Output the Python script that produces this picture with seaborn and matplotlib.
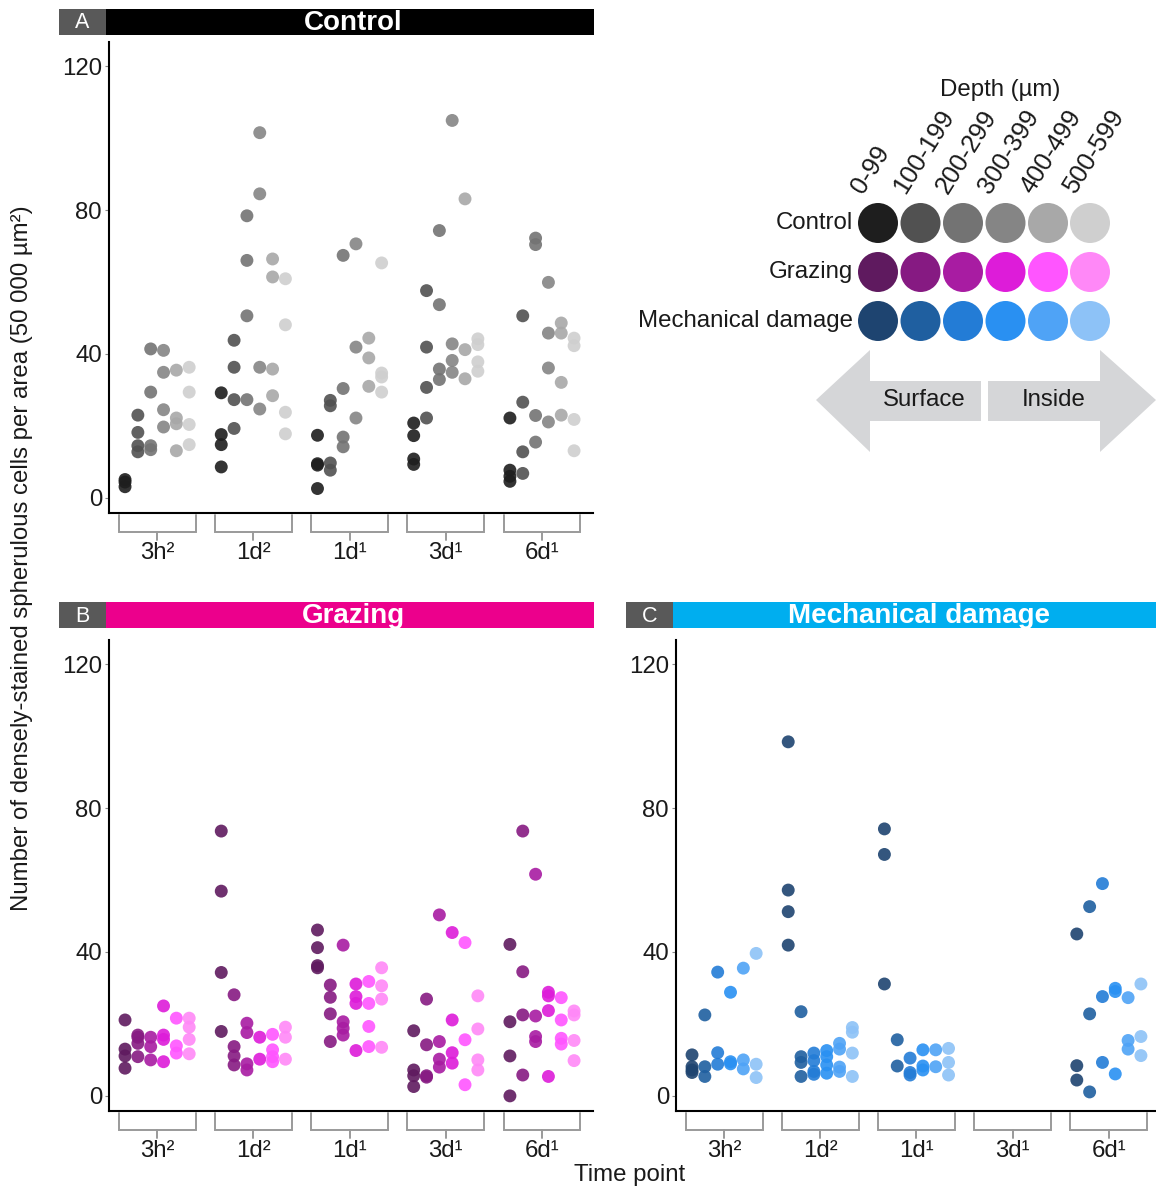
import matplotlib
matplotlib.use("Agg")
import matplotlib.pyplot as plt
import matplotlib.transforms as mtransforms
from matplotlib.patches import Rectangle, Polygon
import pandas as pd
import seaborn as sns

# ---------------- data ----------------
time_points = ["3h²", "1d²", "1d¹", "3d¹", "6d¹"]
depths = ["0-99", "100-199", "200-299", "300-399", "400-499", "500-599"]

control_colors = ["#1E1E1E", "#515151", "#737373", "#858585", "#A8A8A8", "#CFCFCF"]
grazing_colors = ["#5F1A5F", "#861A82", "#A81CA2", "#DD1CD9", "#FF55FF", "#FF88F7"]
mechanical_colors = ["#1E4470", "#1F5FA0", "#237CD6", "#2990F2", "#4FA3F6", "#8DC2F7"]

# each list: values for depth 0-99, 100-199, ..., 500-599
control_3h2 = [[5.1, 4.4, 3.1], [23.0, 18.2, 14.5, 12.8], [41.4, 29.4, 14.5, 13.4],
               [41.0, 34.9, 24.5, 19.7], [35.5, 22.2, 20.6, 13.1], [36.3, 29.4, 20.4, 14.8]]
control_1d2 = [[29.2, 17.6, 14.8, 8.6], [43.8, 36.3, 27.3, 19.3], [78.4, 66.0, 50.6, 27.3],
               [101.5, 84.5, 36.3, 24.7], [66.4, 61.4, 35.8, 28.4], [60.9, 48.1, 23.8, 17.8]]
control_1d1 = [[17.4, 9.5, 9.1, 2.6], [27.1, 25.6, 9.7, 7.7], [67.4, 30.4, 16.9, 14.2],
               [70.6, 41.9, 22.2], [44.4, 38.9, 31.0], [65.3, 34.7, 33.6, 29.4]]
control_3d1 = [[20.8, 17.3, 10.8, 9.3], [57.6, 41.9, 30.7, 22.2], [74.3, 53.7, 35.8, 32.9],
               [104.9, 42.8, 38.2, 34.9], [83.1, 41.2, 33.1], [44.2, 42.6, 37.8, 35.2]]
control_6d1 = [[22.2, 7.7, 6.0, 4.6], [50.6, 26.6, 12.8, 6.8], [72.2, 70.4, 22.9, 15.5],
               [59.9, 45.8, 36.1, 21.1], [48.6, 45.8, 32.1, 23.0], [44.4, 42.3, 21.8, 13.1]]

grazing_3h2 = [[21.1, 13.0, 11.1, 7.7], [16.9, 16.3, 14.6, 10.9], [16.3, 13.7, 10.0],
               [25.0, 16.9, 15.7, 9.5], [21.6, 13.9, 11.9], [21.6, 19.1, 15.7, 11.7]]
grazing_1d2 = [[73.6, 56.9, 34.3, 17.9], [28.1, 13.7, 11.1, 8.6], [20.2, 17.6, 8.9, 7.2],
               [16.3, 10.2], [17.1, 12.8, 10.9, 9.5], [19.1, 16.3, 10.2]]
grazing_1d1 = [[46.1, 41.2, 36.2, 35.6], [30.8, 27.4, 22.8, 15.1], [41.9, 20.6, 18.8, 16.9],
               [31.1, 27.6, 25.7, 12.6], [31.8, 25.7, 19.3, 13.7], [35.6, 30.6, 26.9, 13.5]]
grazing_3d1 = [[18.1, 7.2, 5.6, 2.6], [26.9, 14.2, 5.6, 5.2], [50.3, 15.1, 10.2, 8.0],
               [45.4, 21.1, 12.0, 9.1], [42.6, 15.6, 3.1], [27.8, 18.6, 10.0, 7.2]]
grazing_6d1 = [[42.1, 20.6, 11.1, 0.0], [73.6, 34.5, 22.5, 5.8], [61.6, 22.2, 16.5, 15.1],
               [28.8, 27.8, 23.7, 5.4], [27.3, 21.1, 16.0, 14.4], [23.6, 22.5, 15.4, 9.8]]

mechanical_3h2 = [[11.4, 8.1, 7.2, 6.5], [22.5, 8.1, 5.4], [34.4, 12.0, 8.8],
                  [28.8, 9.5, 8.9], [35.5, 10.0, 7.5], [39.6, 8.8, 5.1]]
mechanical_1d2 = [[98.4, 57.2, 51.2, 41.9], [23.4, 10.9, 9.3, 5.4], [11.9, 9.8, 6.8, 6.0],
                  [12.6, 10.9, 8.6, 6.3], [14.6, 13.0, 8.0, 6.8], [19.0, 17.7, 11.9, 5.4]]
mechanical_1d1 = [[74.2, 67.1, 31.1], [15.6, 8.3], [10.5, 6.5, 5.8],
                  [12.8, 8.3, 7.2], [12.8, 8.1], [13.2, 9.3, 5.8]]
mechanical_3d1 = [[], [], [], [], [], []]
mechanical_6d1 = [[45.0, 8.4, 4.4], [52.6, 22.8, 1.1], [59.0, 27.6, 9.3],
                  [29.9, 29.0, 6.1], [27.3, 15.4, 13.0], [31.1, 16.5, 11.2]]

y_ticks = [0, 40, 80, 120]


def to_frame(per_time):
    rows = []
    for tp, per_depth in zip(time_points, per_time):
        for dep, vals in zip(depths, per_depth):
            for v in vals:
                rows.append({"time": tp, "depth": dep, "count": v})
    return pd.DataFrame(rows, columns=["time", "depth", "count"])


control_df = to_frame([control_3h2, control_1d2, control_1d1, control_3d1, control_6d1])
grazing_df = to_frame([grazing_3h2, grazing_1d2, grazing_1d1, grazing_3d1, grazing_6d1])
mechanical_df = to_frame([mechanical_3h2, mechanical_1d2, mechanical_1d1, mechanical_3d1, mechanical_6d1])

# ---------------- style ----------------
sns.set_theme(style="white")
plt.rcParams["font.family"] = ["Liberation Sans", "DejaVu Sans"]

W, H = 1156, 1192
fig = plt.figure(figsize=(W / 100, H / 100), dpi=100)
fig.patch.set_facecolor("white")

# overlay axes in pixel coordinates for strips / legend
bg = fig.add_axes([0, 0, 1, 1])
bg.set_xlim(0, W)
bg.set_ylim(H, 0)
bg.axis("off")
bg.patch.set_alpha(0)


def panel_axes(left, right, top, bottom):
    return fig.add_axes([left / W, 1 - bottom / H, (right - left) / W, (bottom - top) / H])


FS = 17.3


def draw_panel(ax, df, colors, xmax):
    sns.stripplot(data=df, x="time", y="count", hue="depth", order=time_points,
                  hue_order=depths, palette=colors, dodge=True, jitter=False,
                  size=9.3, alpha=0.9, linewidth=0, legend=False, ax=ax)
    ax.set_xlim(-0.5, xmax)
    ax.set_ylim(-4.2, 126.7)
    ax.set_yticks(y_ticks)
    ax.set_yticklabels([str(t) for t in y_ticks])
    ax.set_xlabel("")
    ax.set_ylabel("")
    for s in ["top", "right"]:
        ax.spines[s].set_visible(False)
    for s in ["left", "bottom"]:
        ax.spines[s].set_color("black")
        ax.spines[s].set_linewidth(1.5)
    ax.tick_params(axis="y", length=3, width=0.8, color="#888888", pad=2,
                   labelsize=FS, labelcolor="#1a1a1a", left=True)
    ax.tick_params(axis="x", length=0, pad=21, labelsize=FS, labelcolor="#1a1a1a")
    ax.set_xticks(range(len(time_points)))
    ax.set_xticklabels(time_points)
    # brackets below the axis
    trans = mtransforms.blended_transform_factory(ax.transData, ax.transAxes)
    hpx = ax.get_position().height * H
    d1 = 19 / hpx
    d2 = 27 / hpx
    d0 = 2 / hpx
    for i in range(len(time_points)):
        ax.plot([i - 0.4, i - 0.4, i + 0.4, i + 0.4], [-d0, -d1, -d1, -d0],
                transform=trans, color="#9a9a9a", lw=1.4, clip_on=False,
                solid_joinstyle="miter")
        ax.plot([i, i], [-d1, -d2], transform=trans, color="#9a9a9a", lw=1.4,
                clip_on=False)


axA = panel_axes(109, 593, 42, 513)
draw_panel(axA, control_df, control_colors, 4.53)
axB = panel_axes(109, 593, 640, 1111)
draw_panel(axB, grazing_df, grazing_colors, 4.53)
axC = panel_axes(676, 1156, 640, 1111)
draw_panel(axC, mechanical_df, mechanical_colors, 4.49)


# strips
def strip(x0, x1, y0, y1, letter, title, color):
    bg.add_patch(Rectangle((x0, y0), 47, y1 - y0, facecolor="#595959", edgecolor="none"))
    bg.add_patch(Rectangle((x0 + 47, y0), x1 - x0 - 47, y1 - y0, facecolor=color, edgecolor="none"))
    bg.text(x0 + 23.5, (y0 + y1) / 2 + 1, letter, color="white", fontsize=15.5,
            ha="center", va="center")
    bg.text((x0 + 47 + x1) / 2 + 3, (y0 + y1) / 2 + 1, title, color="white",
            fontsize=20, fontweight="bold", ha="center", va="center")


strip(59, 594, 9, 35, "A", "Control", "#000000")
strip(59, 594, 602, 628, "B", "Grazing", "#EC008C")
strip(626, 1160, 602, 628, "C", "Mechanical damage", "#00AEEF")

# axis titles
bg.text(22, 558, "Number of densely-stained spherulous cells per area (50 000 µm²)",
        rotation=90, ha="center", va="center", fontsize=FS, color="#1a1a1a")
bg.text(630, 1175, "Time point", ha="center", va="center", fontsize=FS, color="#1a1a1a")

# legend
circle_x = [878, 920.5, 963, 1005.5, 1048, 1090]
row_y = [223, 272, 321]
rows = [("Control", control_colors), ("Grazing", grazing_colors),
        ("Mechanical damage", mechanical_colors)]
for (name, cols), ry in zip(rows, row_y):
    bg.scatter(circle_x, [ry] * len(circle_x), s=(40 * 0.72) ** 2, c=cols,
               linewidths=0)
    bg.text(853, ry, name, ha="right", va="center", fontsize=FS, color="#1a1a1a")
for cx, lab in zip(circle_x, depths):
    bg.text(cx - 11, 198, lab, rotation=58, rotation_mode="anchor", ha="left",
            va="bottom", fontsize=18.3, color="#1a1a1a")
bg.text(1000, 90, "Depth (µm)", ha="center", va="center", fontsize=FS, color="#1a1a1a")

arrow_color = "#D5D6D8"
bg.add_patch(Polygon([(816, 400), (870, 350), (870, 381), (981, 381), (981, 421),
                      (870, 421), (870, 452)], closed=True, facecolor=arrow_color,
                     edgecolor="none"))
bg.add_patch(Polygon([(1156, 400), (1100, 350), (1100, 381), (988, 381), (988, 421),
                      (1100, 421), (1100, 452)], closed=True, facecolor=arrow_color,
                     edgecolor="none"))
bg.text(924, 400, "Surface", ha="center", va="center", fontsize=FS, color="#1a1a1a")
bg.text(1054, 400, "Inside", ha="center", va="center", fontsize=FS, color="#1a1a1a")

fig.savefig("out.png", dpi=100, facecolor="white")
